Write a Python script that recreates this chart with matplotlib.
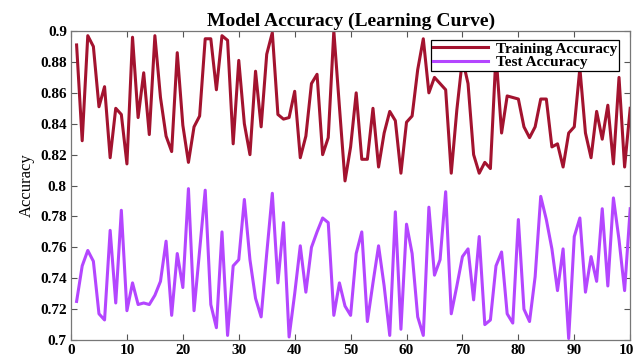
import numpy as np
import matplotlib.pyplot as plt
from matplotlib.ticker import FuncFormatter

epochs = list(range(1, 101))

train_acc = [0.891, 0.829, 0.897, 0.890, 0.851, 0.864, 0.818, 0.850, 0.846, 0.814,
             0.896, 0.844, 0.873, 0.833, 0.897, 0.857, 0.832, 0.822, 0.886, 0.839,
             0.815, 0.838, 0.845, 0.895, 0.895, 0.862, 0.897, 0.894, 0.827, 0.881,
             0.840, 0.820, 0.874, 0.838, 0.885, 0.899, 0.846, 0.843, 0.844, 0.861,
             0.818, 0.832, 0.866, 0.872, 0.820, 0.831, 0.900, 0.851, 0.803, 0.825,
             0.860, 0.817, 0.817, 0.850, 0.812, 0.834, 0.848, 0.842, 0.808, 0.841,
             0.845, 0.875, 0.895, 0.860, 0.870, 0.866, 0.862, 0.808, 0.849, 0.882,
             0.866, 0.820, 0.808, 0.815, 0.811, 0.885, 0.834, 0.858, 0.857, 0.856,
             0.838, 0.831, 0.838, 0.856, 0.856, 0.825, 0.827, 0.812, 0.834, 0.838,
             0.876, 0.834, 0.818, 0.848, 0.830, 0.852, 0.814, 0.870, 0.812, 0.850]

test_acc = [0.725, 0.748, 0.758, 0.751, 0.717, 0.713, 0.771, 0.724, 0.784, 0.719,
            0.737, 0.723, 0.724, 0.723, 0.729, 0.738, 0.764, 0.716, 0.756, 0.734,
            0.798, 0.719, 0.758, 0.797, 0.723, 0.708, 0.770, 0.703, 0.748, 0.752,
            0.791, 0.752, 0.727, 0.715, 0.756, 0.795, 0.737, 0.776, 0.702, 0.730,
            0.761, 0.731, 0.760, 0.770, 0.779, 0.776, 0.716, 0.737, 0.722, 0.716,
            0.756, 0.770, 0.712, 0.737, 0.761, 0.735, 0.703, 0.783, 0.707, 0.775,
            0.756, 0.715, 0.703, 0.786, 0.742, 0.752, 0.796, 0.717, 0.735, 0.754,
            0.759, 0.726, 0.767, 0.710, 0.713, 0.748, 0.757, 0.717, 0.711, 0.778,
            0.720, 0.712, 0.741, 0.793, 0.778, 0.759, 0.732, 0.759, 0.701, 0.767,
            0.779, 0.731, 0.754, 0.738, 0.785, 0.735, 0.792, 0.765, 0.732, 0.785]

plt.rcParams['font.family'] = ['Liberation Serif', 'DejaVu Serif']

fig = plt.figure(figsize=(6.34, 3.61), dpi=100)
ax = fig.add_axes([0.112, 0.058, 0.882, 0.856])

ax.plot(epochs, train_acc, color='#a3132f', lw=2.2, label='Training Accuracy')
ax.plot(epochs, test_acc, color='#b446ff', lw=2.2, label='Test Accuracy')

ax.set_xlim(0, 100)
ax.set_ylim(0.7, 0.9)
ax.set_xticks(np.arange(0, 101, 10))
ax.set_yticks(np.arange(0.7, 0.9001, 0.02))
# matlab-style tick labels: 0.8 rather than 0.80
ax.yaxis.set_major_formatter(FuncFormatter(lambda v, p: ('%.2f' % v).rstrip('0').rstrip('.')))

ax.tick_params(direction='in', top=True, right=True, length=4, width=0.8,
               color='#555555', labelsize=11, pad=3)
for lab in ax.get_xticklabels() + ax.get_yticklabels():
    lab.set_fontweight('bold')
for s in ax.spines.values():
    s.set_color('#777777')
    s.set_linewidth(0.9)

ax.set_ylabel('Accuracy', fontsize=12, labelpad=4)
ax.set_title('Model Accuracy (Learning Curve)', fontsize=14, fontweight='bold', pad=4)

leg = ax.legend(loc='upper right', bbox_to_anchor=(0.980, 0.971), fancybox=False,
                edgecolor='black', framealpha=1, borderpad=0.12, labelspacing=0.0,
                handlelength=3.6, handletextpad=0.5, borderaxespad=0,
                prop={'weight': 'bold', 'size': 11})
leg.get_frame().set_linewidth(0.9)

fig.savefig('out.png', dpi=100)
